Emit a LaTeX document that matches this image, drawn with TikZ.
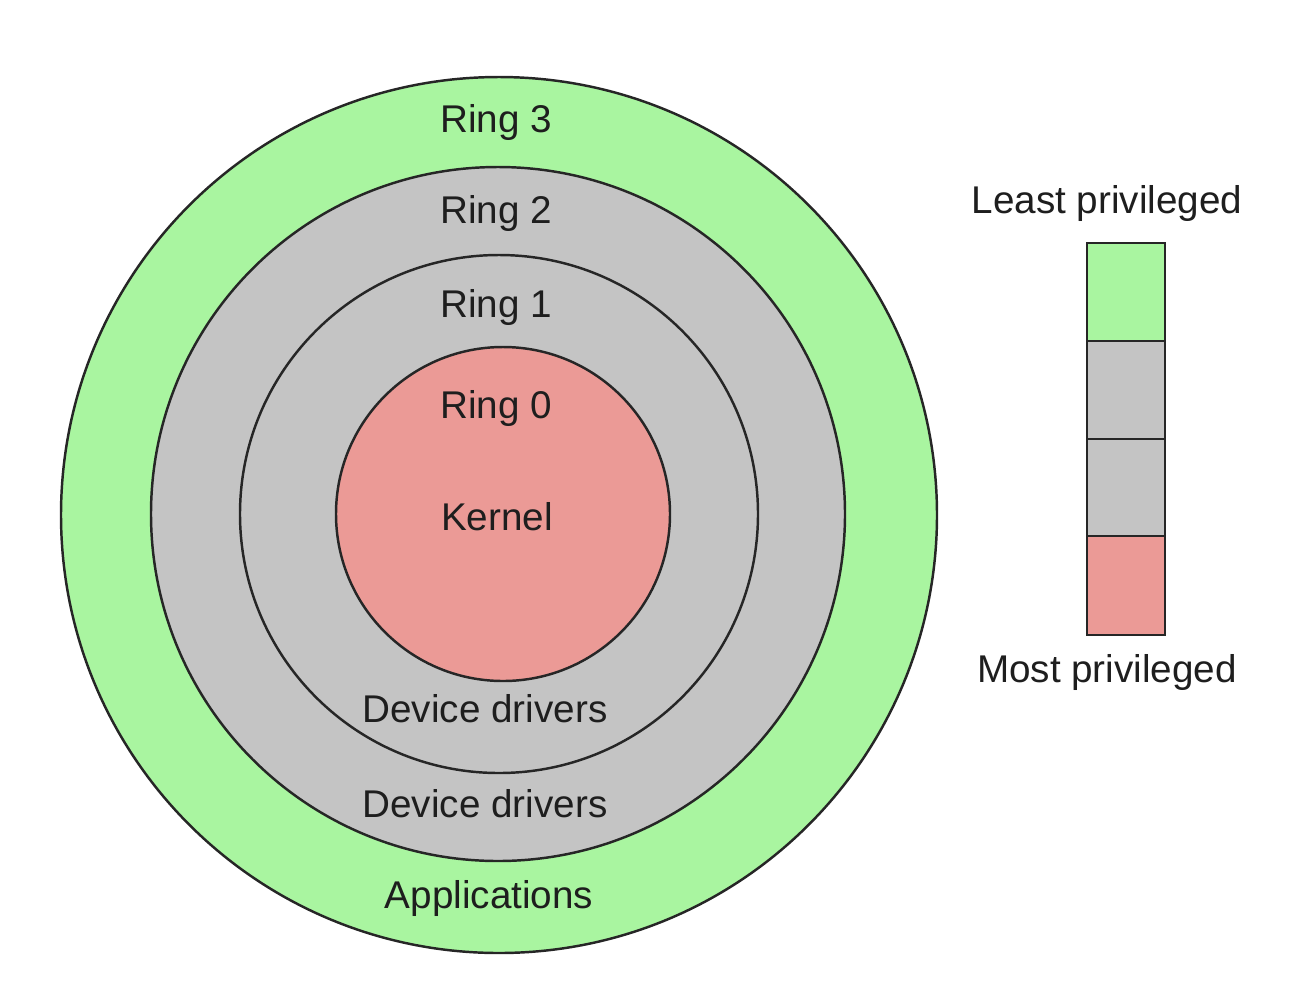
\documentclass[tikz,border=0pt]{standalone}
\usepackage{fontspec}
\setmainfont{Liberation Sans}
\definecolor{ringgreen}{HTML}{A9F5A0}
\definecolor{ringgray}{HTML}{C4C4C4}
\definecolor{ringred}{HTML}{EB9A96}
\definecolor{txt}{HTML}{1E1E1E}
\begin{document}
\begin{tikzpicture}[x=0.02cm,y=-0.02cm,
  ring/.style={draw=black!85,line width=1.4pt,circle,inner sep=0pt},
  lbl/.style={anchor=base,font=\fontsize{22}{26}\selectfont,text=txt,inner sep=0pt},
  seg/.style={draw=black!85,line width=1.4pt}]
\useasboundingbox (0,0) rectangle (1302,992);
% rings
\node[ring,fill=ringgreen,minimum size=876*0.02cm] (r3) at (499,515) {};
\node[ring,fill=ringgray,minimum size=694*0.02cm] (r2) at (498,514) {};
\node[ring,fill=ringgray,minimum size=518*0.02cm] (r1) at (499,514) {};
\node[ring,fill=ringred,minimum size=334*0.02cm] (r0) at (503,514) {};
% labels
\node[lbl] (t3) at (496,132) {Ring 3};
\node[lbl] (t2) at (496,223) {Ring 2};
\node[lbl] (t1) at (496,317) {Ring 1};
\node[lbl] (t0) at (496,418) {Ring 0};
\node[lbl] (tk) at (497,530) {Kernel};
\node[lbl] (d1) at (485,722) {Device drivers};
\node[lbl] (d2) at (485,817) {Device drivers};
\node[lbl] (ap) at (489,908) {Applications};
% legend bar
\filldraw[seg,fill=ringgreen] (1087,243) rectangle (1165,341);
\filldraw[seg,fill=ringgray] (1087,341) rectangle (1165,439);
\filldraw[seg,fill=ringgray] (1087,439) rectangle (1165,536);
\filldraw[seg,fill=ringred] (1087,536) rectangle (1165,635);
\node[lbl] (lp) at (1107,213) {Least privileged};
\node[lbl] (mp) at (1107,682) {Most privileged};
\end{tikzpicture}
\end{document}
